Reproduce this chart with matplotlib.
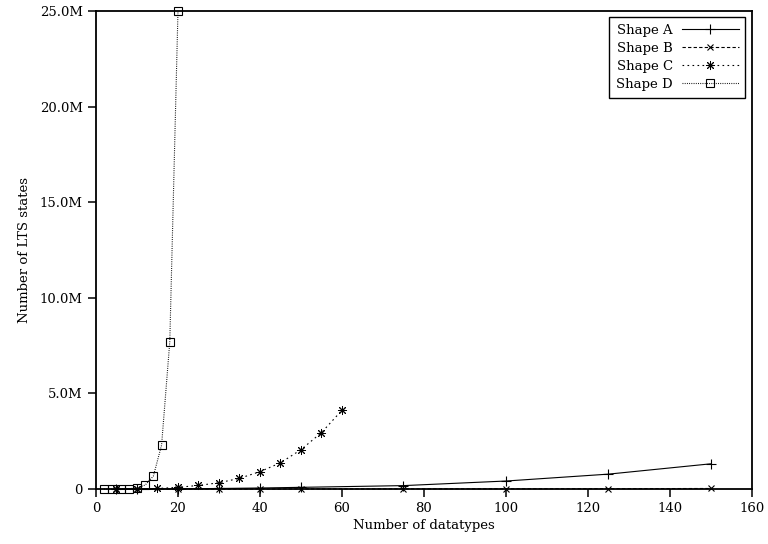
import matplotlib
matplotlib.use("Agg")
import matplotlib.pyplot as plt
from matplotlib.ticker import FuncFormatter

# Data (values in millions of LTS states)
a_x = [5, 10, 20, 30, 40, 50, 75, 100, 125, 150]
a_y = [0.001, 0.003, 0.012, 0.03, 0.055, 0.09, 0.18, 0.42, 0.78, 1.32]

b_x = [5, 10, 20, 30, 40, 50, 75, 100, 125, 150]
b_y = [0.0, 0.0005, 0.001, 0.002, 0.004, 0.006, 0.01, 0.015, 0.02, 0.03]

c_x = [5, 10, 15, 20, 25, 30, 35, 40, 45, 50, 55, 60]
c_y = [0.002, 0.01, 0.03, 0.09, 0.19, 0.33, 0.56, 0.91, 1.37, 2.06, 2.95, 4.12]

d_x = [2, 4, 6, 8, 10, 12, 14, 16, 18, 20]
d_y = [0.0005, 0.002, 0.006, 0.02, 0.065, 0.21, 0.68, 2.3, 7.7, 25.0]

labels = ["Shape A", "Shape B", "Shape C", "Shape D"]
x_ticks = [0, 20, 40, 60, 80, 100, 120, 140, 160]
y_ticks = [0, 5, 10, 15, 20, 25]

plt.rcParams['font.family'] = ['DejaVu Serif']
plt.rcParams['font.size'] = 9.5

fig = plt.figure(figsize=(7.68, 5.44), dpi=100)
ax = fig.add_axes([0.125, 0.101, 0.854, 0.879])

lw = 0.8
ax.plot(a_x, a_y, color='black', lw=lw, ls='-', marker='+', ms=6.5, mew=0.8,
        label=labels[0], clip_on=False)
ax.plot(b_x, b_y, color='black', lw=lw, ls=(0, (3, 2)), marker='x', ms=5, mew=0.8,
        label=labels[1], clip_on=False)
ax.plot(c_x, c_y, color='black', lw=lw, ls=(0, (1.5, 3)), marker=(8, 2, 0), ms=6.5, mew=0.7,
        label=labels[2], clip_on=False)
ax.plot(d_x, d_y, color='black', lw=lw, ls=(0, (0.8, 1.2)), marker='s', ms=5.5, mew=0.8,
        mfc='none', label=labels[3], clip_on=False)

ax.set_xlim(0, 160)
ax.set_ylim(0, 25)
ax.set_xticks(x_ticks)
ax.set_yticks(y_ticks)
ax.yaxis.set_major_formatter(FuncFormatter(lambda v, p: "0" if v == 0 else f"{v:.1f}M"))

for s in ax.spines.values():
    s.set_linewidth(1.3)
ax.tick_params(direction='out', length=6, width=1.1, top=False, right=False)

ax.set_xlabel("Number of datatypes", labelpad=3)
ax.set_ylabel("Number of LTS states", labelpad=6)

leg = ax.legend(loc='upper right', markerfirst=False, handlelength=4.3,
                fancybox=False, edgecolor='black', framealpha=1,
                borderaxespad=0.5, labelspacing=0.38, handletextpad=0.7,
                borderpad=0.5)
leg.get_frame().set_linewidth(1.0)

fig.savefig("out.png", dpi=100)
